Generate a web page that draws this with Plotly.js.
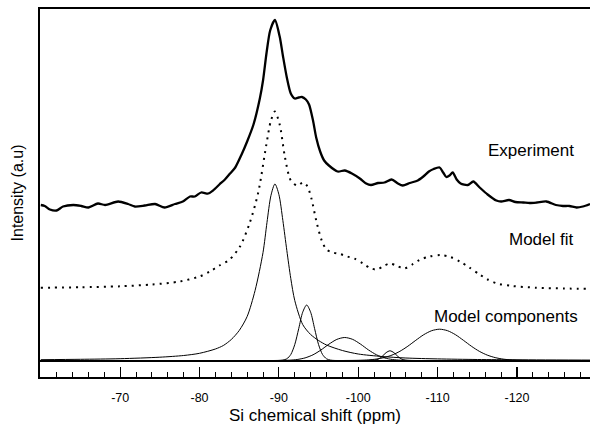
<!DOCTYPE html>
<html><head><meta charset="utf-8">
<script src="https://cdn.plot.ly/plotly-3.0.1.min.js"></script>
<style>html,body{margin:0;padding:0;background:#fff;} #chart{width:590px;height:425px;}</style>
</head><body><div id="chart"></div>
<script>
// Experimental spectrum (offset in arbitrary units)
const expX = [-60.0,-60.5,-61.15,-62.0,-62.8,-64.1,-65.1,-66.0,-67.2,-68.1,-69.75,-71.0,-71.85,-73.1,-74.4,-75.6,-76.9,-77.9,-78.8,-79.4,-80.2,-81.1,-81.7,-82.5,-83.2,-83.85,-84.5,-85.3,-86.0,-86.8,-87.6,-88.0,-88.45,-88.9,-89.5,-90.1,-90.5,-91.0,-91.5,-92.0,-92.5,-92.9,-93.4,-93.8,-94.3,-94.7,-95.2,-95.7,-96.3,-97.4,-98.3,-99.2,-100.2,-101.0,-101.6,-102.5,-103.3,-104.2,-105.0,-105.6,-106.5,-107.5,-108.2,-108.9,-109.5,-110.25,-110.7,-111.1,-111.5,-111.9,-112.4,-112.9,-113.8,-114.5,-115.3,-116.3,-117.4,-118.0,-119.0,-119.8,-120.8,-121.6,-122.5,-123.7,-124.9,-125.8,-126.6,-127.5,-128.3,-129.2];
const expY = [1.555,1.545,1.51,1.50,1.54,1.555,1.545,1.53,1.57,1.555,1.59,1.565,1.54,1.55,1.565,1.53,1.565,1.59,1.64,1.64,1.68,1.67,1.70,1.76,1.81,1.87,1.93,2.06,2.19,2.36,2.62,2.80,3.08,3.30,3.405,3.24,3.05,2.83,2.67,2.62,2.63,2.635,2.61,2.56,2.40,2.23,2.09,2.00,1.95,1.89,1.90,1.87,1.82,1.77,1.755,1.775,1.78,1.81,1.77,1.75,1.775,1.80,1.84,1.89,1.915,1.93,1.88,1.835,1.85,1.88,1.81,1.77,1.755,1.79,1.73,1.66,1.60,1.59,1.605,1.585,1.58,1.575,1.58,1.59,1.555,1.545,1.545,1.53,1.54,1.565];

// Model fit (offset)
const fitX = [-60,-65,-70,-74,-77.5,-80,-81.3,-82.5,-83.8,-85.1,-86.3,-87.4,-88.4,-89,-89.5,-90.1,-90.75,-91.5,-92.3,-93.1,-93.6,-94.1,-94.7,-95.4,-96,-96.8,-97.7,-98.6,-99.5,-100.6,-101.5,-102.3,-103.2,-104,-104.9,-105.8,-106.8,-107.7,-109,-110.4,-111.6,-112.8,-114,-115.3,-116.3,-117.5,-119.4,-122.4,-126,-130];
const fitY = [0.728,0.732,0.742,0.76,0.79,0.84,0.89,0.95,1.01,1.14,1.37,1.68,2.15,2.40,2.49,2.36,2.04,1.80,1.75,1.78,1.74,1.62,1.40,1.20,1.11,1.08,1.065,1.04,1.02,0.97,0.925,0.91,0.945,0.97,0.945,0.92,0.96,1.005,1.04,1.055,1.035,0.99,0.93,0.86,0.81,0.77,0.745,0.728,0.72,0.715];

// Model components
const c1X = [-60,-65,-70,-75,-78,-80,-82,-83,-84,-85,-86,-87,-88,-88.5,-89,-89.5,-90,-90.5,-91,-91.5,-92,-93,-94,-95,-96,-98,-100,-103,-106,-110,-115,-120,-130];
const c1Y = [0.008,0.012,0.018,0.033,0.05,0.072,0.115,0.15,0.21,0.30,0.44,0.70,1.08,1.38,1.65,1.765,1.66,1.40,1.10,0.82,0.60,0.36,0.26,0.20,0.155,0.10,0.065,0.04,0.025,0.016,0.01,0.007,0.004];
const c2X = [-89.5,-90,-90.5,-91,-91.5,-92,-92.5,-93,-93.5,-94,-94.5,-95,-95.5,-96,-96.5,-97,-97.5];
const c2Y = [0,0.0005,0.004,0.017,0.06,0.159,0.319,0.483,0.555,0.483,0.319,0.159,0.06,0.017,0.004,0.0005,0];
const c3X = [-89.3,-90.3,-91.3,-92.3,-93.3,-94.3,-95.3,-96.3,-97.3,-98.3,-99.3,-100.3,-101.3,-102.3,-103.3,-104.3,-105.3,-106.3,-107.3];
const c3Y = [0,0.001,0.003,0.010,0.026,0.057,0.105,0.163,0.211,0.23,0.211,0.163,0.105,0.057,0.026,0.010,0.003,0.001,0];
const c4X = [-101,-101.5,-102,-102.5,-103,-103.5,-104,-104.5,-105,-105.5,-106,-106.5,-107];
const c4Y = [0,0.0004,0.003,0.013,0.040,0.078,0.097,0.078,0.040,0.013,0.003,0.0004,0];
const c5X = [-98.25,-99.25,-100.25,-101.25,-102.25,-103.25,-104.25,-105.25,-106.25,-107.25,-108.25,-109.25,-110.25,-111.25,-112.25,-113.25,-114.25,-115.25,-116.25,-117.25,-118.25,-119.25,-120.25,-121.25,-122.25];
const c5Y = [0.0003,0.0009,0.0024,0.006,0.014,0.029,0.054,0.092,0.143,0.202,0.258,0.298,0.313,0.298,0.258,0.202,0.143,0.092,0.054,0.029,0.014,0.006,0.0024,0.0009,0.0003];

// Axis ticks and labels
const xTickVals = [-70,-80,-90,-100,-110,-120];
const xTickText = ['-70','-80','-90','-100','-110','-120'];
const xMinorVals = [-62,-64,-66,-68,-72,-74,-76,-78,-82,-84,-86,-88,-92,-94,-96,-98,-102,-104,-106,-108,-112,-114,-116,-118,-122,-124,-126,-128];

const labels = ['Experiment','Model fit','Model components'];
const labelX = [-121.76,-123.15,-118.61];
const labelY = [2.105,1.212,0.445];

const xTitle = 'Si chemical shift (ppm)';
const yTitle = 'Intensity (a.u)';

const comp = (x,y) => ({x:x, y:y, type:'scatter', mode:'lines', hoverinfo:'skip',
  line:{color:'#000', width:1, shape:'spline', smoothing:0.8}});

const traces = [
  comp(c1X,c1Y), comp(c2X,c2Y), comp(c3X,c3Y), comp(c4X,c4Y), comp(c5X,c5Y),
  {x:fitX, y:fitY, type:'scatter', mode:'lines', line:{color:'#000', width:2, dash:'2px,5px', shape:'spline', smoothing:0.8}},
  {x:expX, y:expY, type:'scatter', mode:'lines', line:{color:'#000', width:2.3, shape:'spline', smoothing:0.7}}
];

const FONT = 'Liberation Sans, Arial, Helvetica, sans-serif';
const layout = {
  width:590, height:425,
  margin:{l:40, r:0, t:9, b:48},
  showlegend:false,
  paper_bgcolor:'#fff', plot_bgcolor:'#fff',
  font:{family:FONT, color:'#000'},
  xaxis:{
    range:[-59.9,-129.2], tickmode:'array', tickvals:xTickVals, ticktext:xTickText,
    ticks:'inside', ticklen:10, tickwidth:1.2, tickcolor:'#000', ticklabelstandoff:8,
    showline:true, linewidth:2, linecolor:'#000', mirror:true,
    showgrid:false, zeroline:false,
    tickfont:{size:12.5, family:FONT},
    minor:{tickmode:'array', tickvals:xMinorVals, ticks:'inside', ticklen:5, tickwidth:1, tickcolor:'#000', showgrid:false},
    title:{text:xTitle, font:{size:17, family:FONT}, standoff:9}
  },
  yaxis:{
    range:[-0.165,3.515], showticklabels:false, ticks:'',
    showgrid:false, showline:true, linewidth:2, linecolor:'#000',
    zeroline:true, zerolinewidth:2, zerolinecolor:'#000',
    title:{text:yTitle, font:{size:16, family:FONT}, standoff:10}
  },
  annotations: labels.map((t,i)=>({x:labelX[i], y:labelY[i], xref:'x', yref:'y', text:t, showarrow:false,
    xanchor:'center', yanchor:'middle', font:{size:17, family:FONT, color:'#000'}}))
};

Plotly.newPlot('chart', traces, layout, {displayModeBar:false, staticPlot:true});
</script>
</body></html>
